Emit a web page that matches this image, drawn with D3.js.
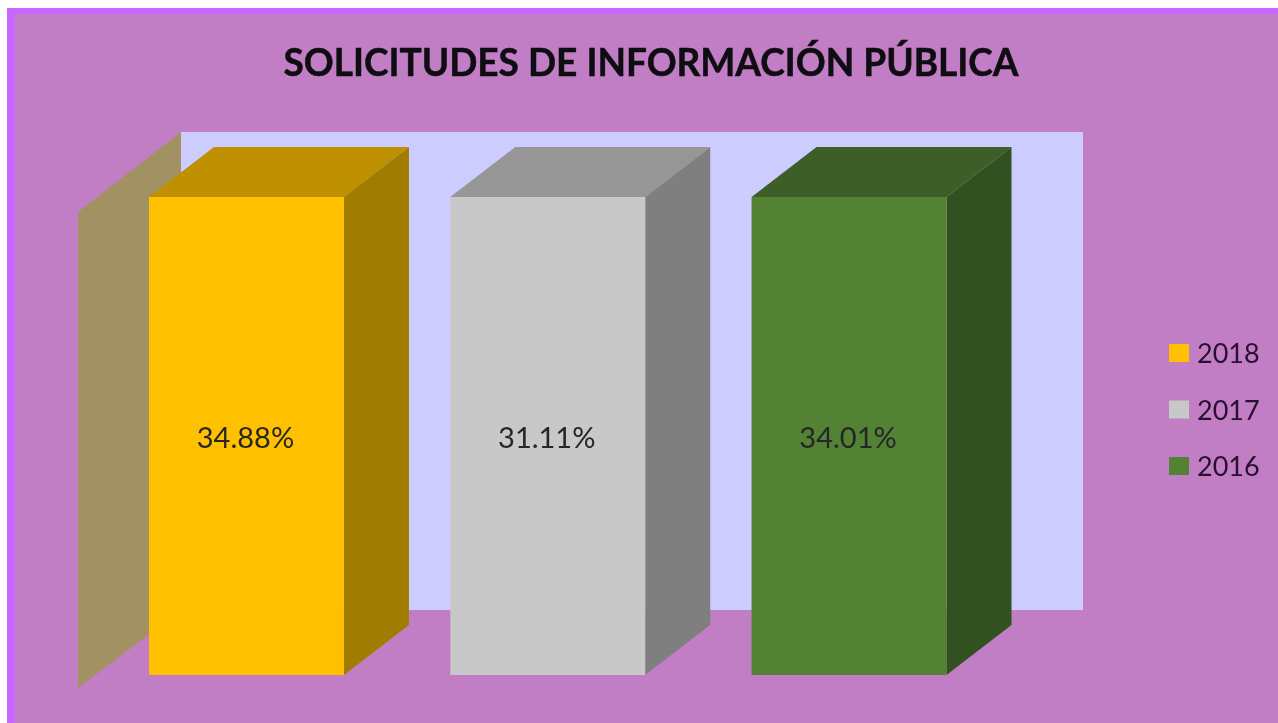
<!DOCTYPE html>
<html><head><meta charset="utf-8">
<script src="https://cdnjs.cloudflare.com/ajax/libs/d3/7.8.5/d3.min.js"></script>
<style>html,body{margin:0;padding:0;background:#fff;overflow:hidden}svg{display:block;filter:blur(0.5px)}text{font-family:Lato,"Open Sans",sans-serif}</style>
</head><body><svg id="c" width="1278" height="723"></svg>
<script>
const title = "SOLICITUDES DE INFORMACIÓN PÚBLICA";
const categories = ["2018","2017","2016"];
const valueLabels = ["34.88%","31.11%","34.01%"];
const fullColumn = [1,1,1]; // every column fills the plot height in the source chart
const frontColors = ["#FFC000","#C8C8C8","#548235"];
const topColors = ["#BF9000","#969696","#3D5F27"];
const sideColors = ["#A07C00","#7F7F7F","#335120"];

const svg = d3.select("#c");
svg.append("rect").attr("x",7).attr("y",8).attr("width",1271).attr("height",715).attr("fill","#C966FF");
svg.append("rect").attr("x",15).attr("y",14).attr("width",1263).attr("height",709).attr("fill","#C27EC5");

const x = d3.scaleBand().domain(categories).range([149,946.5]).paddingInner(0.353);
const y = d3.scaleLinear().domain([0,1]).range([675,197]);
const dx = 65, dy = -50;

// back wall and side wall
svg.append("rect").attr("x",181).attr("y",y(1)-65).attr("width",902).attr("height",y(0)-y(1))
  .attr("fill","#CCCCFF");
const line = d3.line();
svg.append("path").attr("fill","#A29162")
  .attr("d",line([[78,y(1)+15],[181,y(1)-65],[181,y(0)-65],[78,y(0)+13]])+"Z");

const g = svg.selectAll("g.bar").data(categories).join("g").attr("class","bar");
g.append("path").attr("fill",(d,i)=>topColors[i]).attr("d",(d,i)=>{
  const l=x(d), r=l+x.bandwidth(), t=y(fullColumn[i]);
  return line([[l,t],[l+dx,t+dy],[r+dx,t+dy],[r,t]])+"Z";});
g.append("path").attr("fill",(d,i)=>sideColors[i]).attr("d",(d,i)=>{
  const r=x(d)+x.bandwidth(), t=y(fullColumn[i]), b=y(0);
  return line([[r,t],[r+dx,t+dy],[r+dx,b+dy],[r,b]])+"Z";});
g.append("rect").attr("fill",(d,i)=>frontColors[i])
  .attr("x",d=>x(d)).attr("width",x.bandwidth())
  .attr("y",(d,i)=>y(fullColumn[i])).attr("height",(d,i)=>y(0)-y(fullColumn[i]));
g.append("text").text((d,i)=>valueLabels[i])
  .attr("x",d=>x(d)+x.bandwidth()/2-1).attr("y",448).attr("text-anchor","middle")
  .attr("font-size",29).attr("fill","#262626");

svg.append("text").text(title).attr("x",651).attr("y",76).attr("text-anchor","middle")
  .attr("font-size",38).attr("font-weight",700).attr("fill","#0D0D12")
  .attr("stroke","#0D0D12").attr("stroke-width",0.5)
  .attr("textLength",735).attr("lengthAdjust","spacingAndGlyphs");

const legY = d3.scalePoint().domain(categories).range([353,466]);
const lg = svg.selectAll("g.leg").data(categories).join("g").attr("class","leg");
lg.append("rect").attr("x",1169).attr("width",20).attr("height",18)
  .attr("y",d=>legY(d)-9).attr("fill",(d,i)=>frontColors[i]);
lg.append("text").text(d=>d).attr("x",1197).attr("y",d=>legY(d)+10)
  .attr("font-size",27).attr("fill","#2A1030");
</script></body></html>
